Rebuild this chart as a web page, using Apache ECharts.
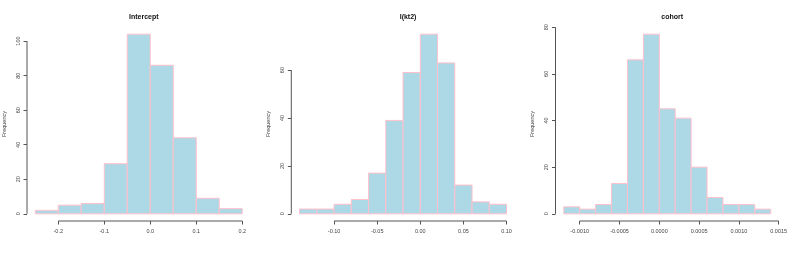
<!DOCTYPE html>
<html>
<head>
<meta charset="utf-8">
<script src="https://cdn.jsdelivr.net/npm/echarts@6/dist/echarts.min.js"></script>
<style>html,body{margin:0;padding:0;background:#fff}#c{width:793px;height:255px}</style>
</head>
<body>
<div id="c"></div>
<script>
// ---- data ----
const titles = ['Intercept', 'I(kt2)', 'cohort'];

const breaks1 = [-0.25, -0.2, -0.15, -0.1, -0.05, 0, 0.05, 0.1, 0.15, 0.2];
const counts1 = [2, 5, 6, 29, 104, 86, 44, 9, 3];
const xTicks1 = [-0.2, -0.1, 0, 0.1, 0.2];
const xLabels1 = ['-0.2', '-0.1', '0.0', '0.1', '0.2'];
const yTicks1 = [0, 20, 40, 60, 80, 100];

const breaks2 = [-0.14, -0.12, -0.10, -0.08, -0.06, -0.04, -0.02, 0, 0.02, 0.04, 0.06, 0.08, 0.10];
const counts2 = [2, 2, 4, 6, 17, 39, 59, 75, 63, 12, 5, 4];
const xTicks2 = [-0.10, -0.05, 0, 0.05, 0.10];
const xLabels2 = ['-0.10', '-0.05', '0.00', '0.05', '0.10'];
const yTicks2 = [0, 20, 40, 60];

const breaks3 = [-0.0012, -0.0010, -0.0008, -0.0006, -0.0004, -0.0002, 0, 0.0002, 0.0004, 0.0006, 0.0008, 0.0010, 0.0012, 0.0014];
const counts3 = [3, 2, 4, 13, 66, 77, 45, 41, 20, 7, 4, 4, 2];
const xTicks3 = [-0.0010, -0.0005, 0, 0.0005, 0.0010, 0.0015];
const xLabels3 = ['-0.0010', '-0.0005', '0.0000', '0.0005', '0.0010', '0.0015'];
const yTicks3 = [0, 20, 40, 60, 80];

// ---- build ----
const panels = [
  {breaks: breaks1, counts: counts1, xt: xTicks1, xl: xLabels1, yt: yTicks1},
  {breaks: breaks2, counts: counts2, xt: xTicks2, xl: xLabels2, yt: yTicks2},
  {breaks: breaks3, counts: counts3, xt: xTicks3, xl: xLabels3, yt: yTicks3}
];
const gridLefts = [27, 291.3, 555.5];
const gridW = 223.5, gridTop = 27, gridH = 194;
const FONT = 'Liberation Sans, Arial, Helvetica, sans-serif';
const AX = '#555';
const LAB = '#444';

const option = {
  animation: false,
  backgroundColor: '#fff',
  title: [], grid: [], xAxis: [], yAxis: [], series: []
};

panels.forEach((p, i) => {
  const b0 = p.breaks[0], bn = p.breaks[p.breaks.length - 1];
  const r = bn - b0;
  const ymax = Math.max(...p.counts);
  option.grid.push({left: gridLefts[i], top: gridTop, width: gridW, height: gridH});
  option.title.push({
    text: titles[i], left: gridLefts[i] + gridW / 2, top: 9, textAlign: 'center',
    textStyle: {fontFamily: FONT, fontSize: 7, fontWeight: 'bold', color: '#111'}
  });
  option.xAxis.push({
    type: 'value', gridIndex: i, min: b0 - 0.04 * r, max: bn + 0.04 * r,
    axisLine: {show: false, onZero: false},
    splitLine: {show: false},
    axisTick: {show: true, customValues: p.xt, length: 3.5, lineStyle: {color: AX, width: 1}},
    axisLabel: {
      show: true, customValues: p.xt, margin: 7,
      fontFamily: FONT, fontSize: 5.5, color: LAB,
      formatter: (v) => {
        let k = 0, best = Infinity;
        p.xt.forEach((t, j) => { const d = Math.abs(t - v); if (d < best) { best = d; k = j; } });
        return p.xl[k];
      }
    }
  });
  option.yAxis.push({
    type: 'value', gridIndex: i, min: -0.04 * ymax, max: 1.04 * ymax,
    name: 'Frequency', nameLocation: 'middle', nameGap: 20, nameRotate: 90,
    nameTextStyle: {fontFamily: FONT, fontSize: 5.5, color: LAB},
    axisLine: {show: false, onZero: false},
    splitLine: {show: false},
    axisTick: {show: true, customValues: p.yt, length: 3.5, lineStyle: {color: AX, width: 1}},
    axisLabel: {
      show: true, customValues: p.yt, margin: 6, rotate: 90,
      fontFamily: FONT, fontSize: 5.5, color: LAB
    }
  });
  const bars = p.counts.map((c, j) => [p.breaks[j], p.breaks[j + 1], c]);
  option.series.push({
    type: 'custom', xAxisIndex: i, yAxisIndex: i,
    data: bars,
    encode: {x: [0, 1], y: 2},
    renderItem: (params, api) => {
      const a = api.coord([api.value(0), 0]);
      const b = api.coord([api.value(1), api.value(2)]);
      return {
        type: 'rect',
        shape: {x: a[0], y: b[1], width: b[0] - a[0], height: a[1] - b[1]},
        style: {fill: '#ADD8E6', stroke: '#FFC0CB', lineWidth: 1}
      };
    }
  });
  // axis lines spanning first..last tick (R style)
  const ymin = -0.04 * ymax, xmin = b0 - 0.04 * r;
  option.series.push({
    type: 'custom', xAxisIndex: i, yAxisIndex: i, silent: true, clip: false,
    data: [[p.xt[0], p.xt[p.xt.length - 1], p.yt[0], p.yt[p.yt.length - 1]]],
    renderItem: (params, api) => {
      const x0 = api.coord([api.value(0), ymin]);
      const x1 = api.coord([api.value(1), ymin]);
      const y0 = api.coord([xmin, api.value(2)]);
      const y1 = api.coord([xmin, api.value(3)]);
      return {
        type: 'group',
        children: [
          {type: 'line', shape: {x1: x0[0], y1: x0[1], x2: x1[0], y2: x1[1]}, style: {stroke: AX, lineWidth: 1}},
          {type: 'line', shape: {x1: y0[0], y1: y0[1], x2: y1[0], y2: y1[1]}, style: {stroke: AX, lineWidth: 1}}
        ]
      };
    }
  });
});

const chart = echarts.init(document.getElementById('c'), null, {renderer: 'canvas'});
chart.setOption(option);
</script>
</body>
</html>
